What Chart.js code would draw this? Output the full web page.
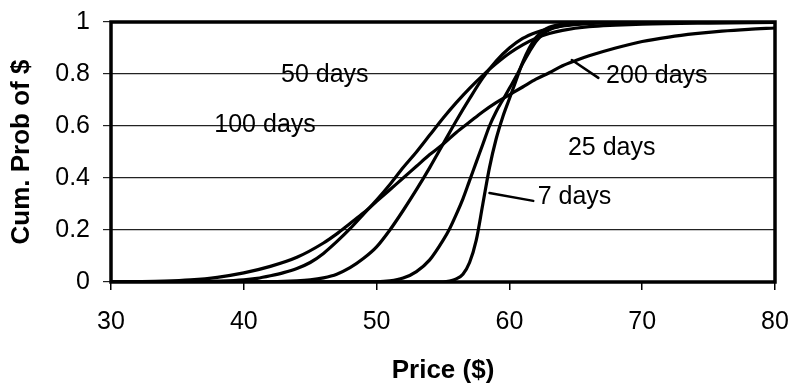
<!DOCTYPE html>
<html><head><meta charset="utf-8">
<style>html,body{margin:0;padding:0;background:#fff;}canvas{display:block;}</style>
<script src="https://cdn.jsdelivr.net/npm/chart.js@4.4.1/dist/chart.umd.min.js"></script>
</head><body>
<canvas id="c" width="791" height="391"></canvas>
<script>
// ---- data ----
const days7X = [30,55,55.5,56,56.5,57,57.5,58,58.5,59,59.5,60,60.5,61,61.5,62,62.5,63,64,65,80];
const days7Y = [0,0.001,0.004,0.012,0.03,0.075,0.16,0.30,0.44,0.55,0.635,0.705,0.775,0.845,0.9,0.94,0.965,0.98,0.992,0.997,1];

const days25X = [30,50,51,52,53,54,55,55.5,56,56.5,57,57.5,58,58.5,59,59.5,60,60.5,61,61.5,62,62.5,63,64,65,67,80];
const days25Y = [0,0.001,0.004,0.015,0.04,0.085,0.16,0.205,0.26,0.32,0.39,0.46,0.53,0.6,0.655,0.70,0.745,0.79,0.84,0.885,0.925,0.952,0.97,0.986,0.993,0.998,1];

const days50X = [30,42,44,45,46,47,48,49,50,51,52,53,54,55,56,57,58,59,60,61,62,63,64,66,70,80];
const days50Y = [0,0.001,0.004,0.008,0.016,0.03,0.055,0.09,0.135,0.2,0.275,0.355,0.44,0.53,0.62,0.705,0.785,0.85,0.9,0.937,0.96,0.975,0.985,0.994,0.998,1];

const days100X = [30,36,38,40,41,42,43,44,45,46,47,48,49,50,51,52,53,54,55,56,57,58,59,60,61,62,63,64,66,68,70,75,80];
const days100Y = [0,0.001,0.003,0.008,0.014,0.024,0.036,0.052,0.075,0.11,0.155,0.205,0.26,0.315,0.375,0.44,0.50,0.565,0.63,0.69,0.745,0.795,0.84,0.88,0.912,0.938,0.956,0.968,0.982,0.988,0.992,0.996,0.998];

const days200X = [30,32,34,36,38,40,42,44,46,47,48,49,50,51,52,53,54,55,56,57,58,59,60,61,62,63,64,65,66,68,70,72,74,76,78,80];
const days200Y = [0,0.001,0.003,0.008,0.018,0.035,0.06,0.095,0.15,0.185,0.225,0.265,0.31,0.355,0.40,0.445,0.49,0.53,0.575,0.615,0.655,0.69,0.72,0.75,0.78,0.805,0.832,0.852,0.87,0.90,0.925,0.942,0.955,0.965,0.972,0.977];

const seriesNames = ['7 days','25 days','50 days','100 days','200 days'];
const xTicks = [30,40,50,60,70,80];
const yTicks = [0,0.2,0.4,0.6,0.8,1];

// curve labels (data coordinates) and leader lines
const curveLabels = [
  {text:'50 days',  x:46.1, y:0.795},
  {text:'100 days', x:41.6, y:0.605},
  {text:'200 days', x:71.1, y:0.79},
  {text:'25 days',  x:67.7, y:0.515},
  {text:'7 days',   x:64.9, y:0.327}
];
const leaders = [
  {from:[64.7,0.854], to:[66.7,0.785]},
  {from:[58.5,0.342], to:[61.8,0.312]}
];

const FONT = "'Liberation Sans', Arial, Helvetica, sans-serif";
const toPts = (xs, ys) => xs.map((x, i) => ({x: x, y: ys[i]}));
const seriesData = [toPts(days7X, days7Y), toPts(days25X, days25Y), toPts(days50X, days50Y), toPts(days100X, days100Y), toPts(days200X, days200Y)];

const overlay = {
  id: 'overlay',
  afterDatasetsDraw(chart) {
    const {ctx, chartArea: a, scales: {x, y}} = chart;
    ctx.save();
    ctx.strokeStyle = '#000';
    ctx.lineCap = 'round';
    ctx.lineWidth = 2.5;
    leaders.forEach(l => {
      ctx.beginPath();
      ctx.moveTo(x.getPixelForValue(l.from[0]), y.getPixelForValue(l.from[1]));
      ctx.lineTo(x.getPixelForValue(l.to[0]), y.getPixelForValue(l.to[1]));
      ctx.stroke();
    });
    ctx.lineCap = 'butt';
    ctx.lineWidth = 3.5;
    ctx.strokeRect(a.left, a.top, a.right - a.left, a.bottom - a.top);
    ctx.fillStyle = '#000';
    ctx.font = '25px ' + FONT;
    ctx.textAlign = 'center';
    ctx.textBaseline = 'middle';
    curveLabels.forEach(c => ctx.fillText(c.text, x.getPixelForValue(c.x), y.getPixelForValue(c.y)));
    ctx.restore();
  }
};

new Chart(document.getElementById('c'), {
  type: 'line',
  data: {
    datasets: seriesData.map((d, i) => ({
      label: seriesNames[i], data: d,
      borderColor: '#000', borderWidth: 3.2, pointRadius: 0,
      cubicInterpolationMode: 'monotone', fill: false
    }))
  },
  options: {
    responsive: false, animation: false, devicePixelRatio: 1,
    layout: {padding: {left: 0, top: 22, right: 16, bottom: 0}},
    plugins: {legend: {display: false}, tooltip: {enabled: false}},
    scales: {
      x: {
        type: 'linear', min: 30, max: 80,
        afterBuildTicks(s) { s.ticks = xTicks.map(v => ({value: v})); },
        ticks: {color: '#000', font: {family: FONT, size: 25}, padding: 17, maxRotation: 0},
        grid: {drawOnChartArea: false, drawTicks: true, tickLength: 8, color: '#000', lineWidth: 1.5},
        border: {display: false},
        title: {display: true, text: 'Price ($)', color: '#000', font: {family: FONT, size: 26, weight: 'bold'}, padding: {top: 0, bottom: 5}},
        afterFit(s) { s.height = 109; s.paddingLeft = 0; s.paddingRight = 0; }
      },
      y: {
        type: 'linear', min: 0, max: 1,
        afterBuildTicks(s) { s.ticks = yTicks.map(v => ({value: v})); },
        ticks: {color: '#000', font: {family: FONT, size: 25}, padding: 13,
                callback: v => String(Math.round(v * 10) / 10)},
        grid: {color: '#222', lineWidth: 1.2, tickLength: 8},
        border: {display: false},
        title: {display: true, text: 'Cum. Prob of $', color: '#000', font: {family: FONT, size: 26, weight: 'bold'}, padding: {top: 6, bottom: 0}},
        afterFit(s) { s.width = 111; s.paddingTop = 0; s.paddingBottom = 0; }
      }
    }
  },
  plugins: [overlay]
});
</script>
</body></html>
